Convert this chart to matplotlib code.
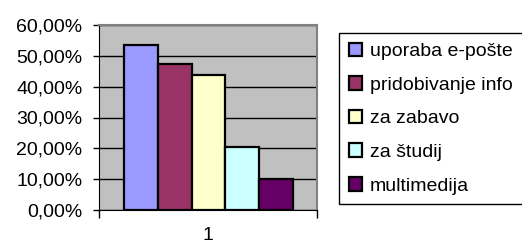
import matplotlib
matplotlib.use("Agg")
import matplotlib.pyplot as plt
from matplotlib.ticker import FuncFormatter

labels = ["uporaba e-pošte", "pridobivanje info", "za zabavo", "za študij", "multimedija"]
values = [53.5, 47.3, 43.9, 20.4, 9.9]
colors = ["#9999FF", "#993366", "#FFFFCC", "#CCFFFF", "#660066"]
category = "1"
yticks = [0, 10, 20, 30, 40, 50, 60]

plt.rcParams["font.family"] = ["Liberation Sans", "DejaVu Sans"]
fig = plt.figure(figsize=(5.22, 2.44), dpi=100)
ax = fig.add_axes([99/522, 1-210/244, 218/522, 185/244])
ax.set_facecolor("#C0C0C0")

w = 0.155
x0 = 0.115
bars = []
for i, (lab, v, c) in enumerate(zip(labels, values, colors)):
    b = ax.bar(x0 + w*(i+0.5), v, width=w, color=c, edgecolor="black", linewidth=1.6, label=lab, zorder=3)
    bars.append(b)

ax.set_xlim(0, 1)
ax.set_ylim(0, 60)
ax.set_yticks(yticks)
ax.yaxis.set_major_formatter(FuncFormatter(lambda v, p: f"{v:.2f}%".replace(".", ",")))
ax.grid(axis="y", color="black", linewidth=1, zorder=1)
ax.set_xticks([0, 1])
ax.set_xticklabels(["", ""])
ax.tick_params(axis="x", length=6, width=1, color="black", direction="out")
ax.tick_params(axis="y", length=4, width=1, color="black", direction="out", labelsize=14, pad=8)
ax.text(0.5, (210-235)/185, category, transform=ax.transAxes, ha="center", va="center", fontsize=14)
for s in ["top", "right"]:
    ax.spines[s].set_color("#808080")
    ax.spines[s].set_linewidth(1.5)
ax.spines["left"].set_color("black")
ax.spines["bottom"].set_color("black")

# legend box runs off the right edge, like the reference
leg = fig.legend(handles=[b[0] for b in bars], labels=labels,
                 loc="upper left", bbox_to_anchor=(339/522, 1-33/244, 200/522, 0.0),
                 mode="expand", fontsize=14, frameon=True, fancybox=False,
                 edgecolor="black", facecolor="white", framealpha=1,
                 handlelength=0.7, handleheight=0.7, handletextpad=0.4,
                 labelspacing=0.82, borderpad=0.5, borderaxespad=0)
leg.get_frame().set_linewidth(1)

fig.savefig("out.png", dpi=100)
